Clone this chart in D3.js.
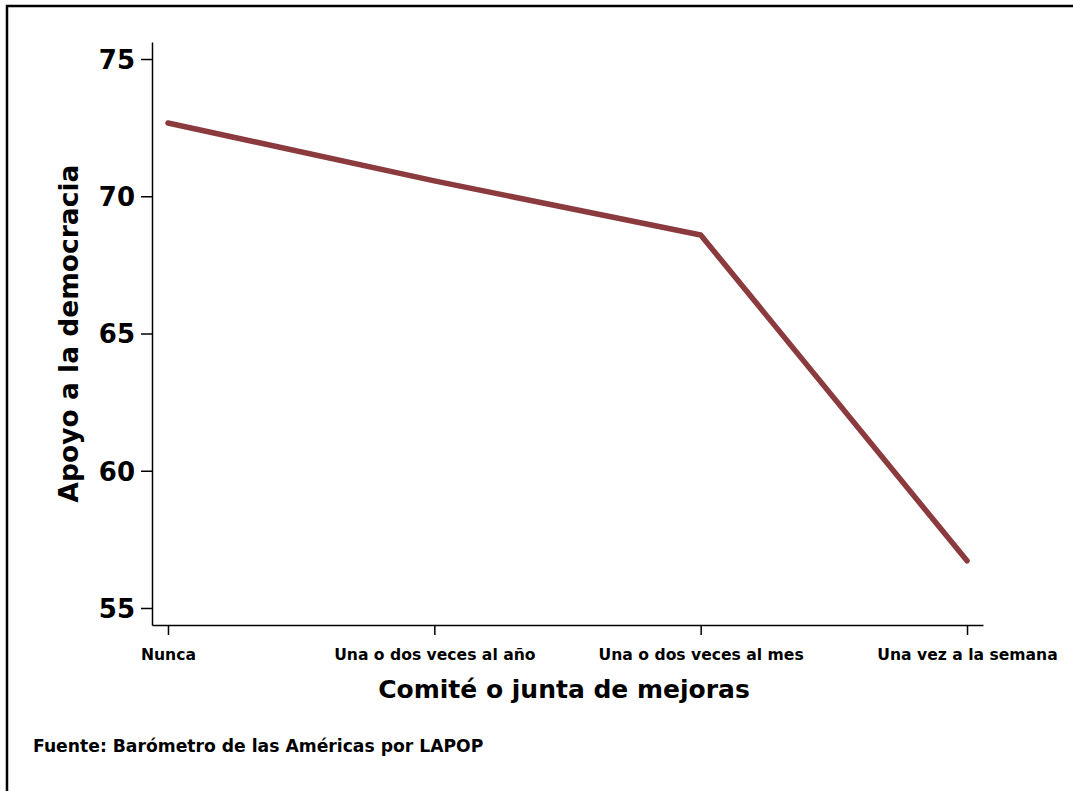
<!DOCTYPE html>
<html><head><meta charset="utf-8">
<script src="https://cdn.jsdelivr.net/npm/d3@7"></script>
<style>body{margin:0;background:#fff}svg{display:block}text{font-family:"DejaVu Sans",sans-serif;font-weight:bold;fill:#000}</style>
</head><body><svg id="c" width="1073" height="791"></svg>
<script>
const categories = ["Nunca","Una o dos veces al año","Una o dos veces al mes","Una vez a la semana"];
const values = [72.67, 70.56, 68.59, 56.72];
const yTicks = [55, 60, 65, 70, 75];
const yTitle = "Apoyo a la democracia";
const xTitle = "Comité o junta de mejoras";
const source = "Fuente: Barómetro de las Américas por LAPOP";

const svg = d3.select("#c");
svg.append("rect").attr("x",0).attr("y",0).attr("width",1073).attr("height",791).attr("fill","#fff");
// frame (left & top visible)
svg.append("path").attr("d","M7,791 V6 H1073").attr("fill","none").attr("stroke","#000").attr("stroke-width",2.5);

const L=152, R=983, T=42, B=625;
const x = d3.scalePoint().domain(categories).range([L,R]).padding(0.06);
const y = d3.scaleLinear().domain([54.38,75.62]).range([B,T]);

const gy = svg.append("g").attr("transform",`translate(${L},0)`)
  .call(d3.axisLeft(y).tickValues(yTicks).tickSize(11).tickPadding(6).tickSizeOuter(0));
gy.select(".domain").attr("stroke","#000").attr("stroke-width",1.5);
gy.selectAll(".tick line").attr("stroke","#000").attr("stroke-width",1.5);
gy.selectAll(".tick text").style("font-size","26px").attr("dy","0.36em");

const gx = svg.append("g").attr("transform",`translate(0,${B})`)
  .call(d3.axisBottom(x).tickSize(10).tickPadding(14).tickSizeOuter(0));
gx.select(".domain").attr("stroke","#000").attr("stroke-width",1.5);
gx.selectAll(".tick line").attr("stroke","#000").attr("stroke-width",1.5);
gx.selectAll(".tick text").style("font-size","15.6px");

const line = d3.line().x((d,i)=>x(categories[i])).y(d=>y(d));
svg.append("path").datum(values).attr("d",line).attr("fill","none")
  .attr("stroke","#8B3A3E").attr("stroke-width",5.5).attr("stroke-linecap","round").attr("stroke-linejoin","round");

svg.append("text").attr("transform","translate(78,333.5) rotate(-90)").attr("text-anchor","middle")
  .style("font-size","26.5px").text(yTitle);
svg.append("text").attr("x",564).attr("y",698).attr("text-anchor","middle").style("font-size","25px").text(xTitle);
svg.append("text").attr("x",33).attr("y",752).style("font-size","17.2px").text(source);
</script></body></html>
